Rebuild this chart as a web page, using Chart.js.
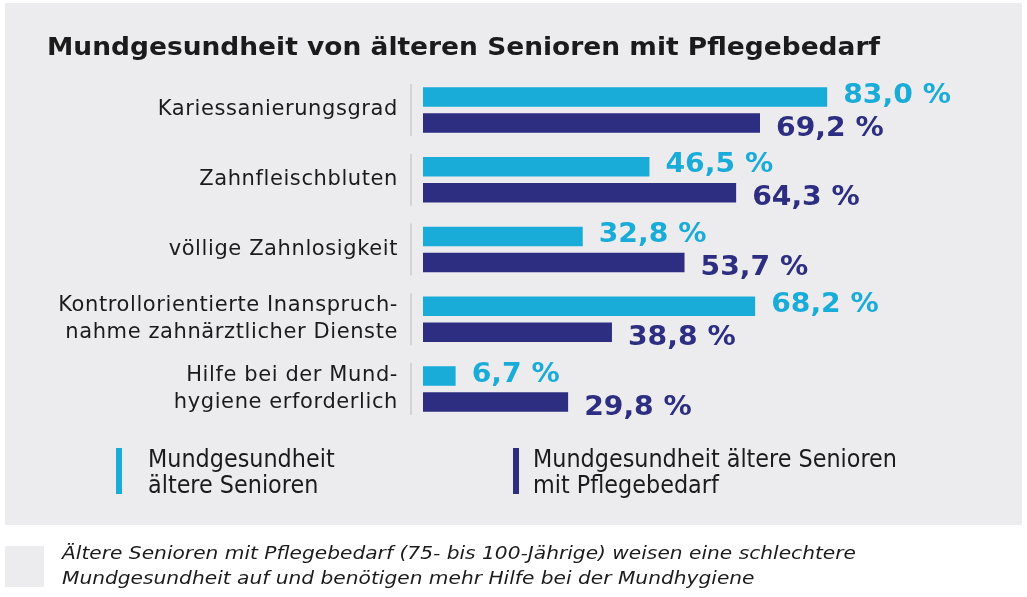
<!DOCTYPE html>
<html><head><meta charset="utf-8">
<script src="https://cdn.jsdelivr.net/npm/chart.js@4.4.0/dist/chart.umd.min.js"></script>
<style>html,body{margin:0;padding:0;background:#fff;}#wrap{width:1027px;height:597px;position:relative}</style>
</head><body><div id="wrap"><canvas id="c" width="1027" height="597"></canvas></div>
<script>
const categories = ["Kariessanierungsgrad", "Zahnfleischbluten", "völlige Zahnlosigkeit", ["Kontrollorientierte Inanspruch-", "nahme zahnärztlicher Dienste"], ["Hilfe bei der Mund-", "hygiene erforderlich"]];
const seniors = [83.0, 46.5, 32.8, 68.2, 6.7];
const care = [69.2, 64.3, 53.7, 38.8, 29.8];
const seriesNames = [["Mundgesundheit", "ältere Senioren"], ["Mundgesundheit ältere Senioren", "mit Pflegebedarf"]];
const seriesColors = ["#1aacd8", "#2d2e82"];
const title = "Mundgesundheit von älteren Senioren mit Pflegebedarf";
const footnote = ["Ältere Senioren mit Pflegebedarf (75- bis 100-Jährige) weisen eine schlechtere", "Mundgesundheit auf und benötigen mehr Hilfe bei der Mundhygiene"];

const TEXT = "#1b1b1b";

// draw text stretched horizontally by factor sx
function drawStretched(ctx, text, x, y, sx) {
  ctx.save();
  ctx.translate(x, y);
  ctx.scale(sx, 1);
  ctx.fillText(text, 0, 0);
  ctx.restore();
}
function factorFor(ctx, text, target) {
  return target / ctx.measureText(text).width;
}

const decor = {
  id: "decor",
  beforeDraw(chart) {
    const ctx = chart.ctx;
    ctx.save();
    ctx.fillStyle = "#ececef";
    ctx.fillRect(5, 3, 1017, 522);
    ctx.fillRect(5, 546, 39, 41);
    ctx.fillStyle = TEXT;
    ctx.textBaseline = "middle";
    ctx.textAlign = "left";
    ctx.font = "bold 25px 'DejaVu Sans'";
    drawStretched(ctx, title, 47, 48, factorFor(ctx, title, 833));
    ctx.font = "oblique 18px 'DejaVu Sans'";
    const ff = factorFor(ctx, footnote[0], 794);
    footnote.forEach((l, i) => drawStretched(ctx, l, 62, 554 + i * 25, ff));
    // legend
    const lx = [116, 513], tx = [148, 533];
    ctx.font = "25px 'DejaVu Sans Condensed', 'DejaVu Sans'";
    const lf = factorFor(ctx, seriesNames[1][0], 364);
    seriesNames.forEach((lines, k) => {
      ctx.fillStyle = seriesColors[k];
      ctx.fillRect(lx[k], 448, 6, 46);
      ctx.fillStyle = TEXT;
      lines.forEach((l, i) => drawStretched(ctx, l, tx[k], 460 + i * 26, lf));
    });
    ctx.restore();
    // letter spacing for category tick labels drawn by the y scale
    ctx.letterSpacing = "0.6px";
  },
  beforeDatasetsDraw(chart) {
    chart.ctx.letterSpacing = "0px";
  },
  afterDatasetsDraw(chart) {
    const ctx = chart.ctx;
    ctx.save();
    const ys = chart.scales.y;
    ctx.strokeStyle = "#d3d3d7";
    ctx.lineWidth = 2;
    categories.forEach((c, i) => {
      const yc = ys.getPixelForValue(i);
      ctx.beginPath();
      ctx.moveTo(chart.chartArea.left - 12, yc - 26);
      ctx.lineTo(chart.chartArea.left - 12, yc + 26);
      ctx.stroke();
    });
    ctx.font = "bold 26px 'DejaVu Sans'";
    ctx.textBaseline = "middle";
    ctx.textAlign = "left";
    chart.data.datasets.forEach((ds, k) => {
      const meta = chart.getDatasetMeta(k);
      ctx.fillStyle = seriesColors[k];
      meta.data.forEach((bar, i) => {
        const txt = ds.data[i].toFixed(1).replace(".", ",") + " %";
        drawStretched(ctx, txt, bar.x + 16, bar.y + (k === 0 ? -1 : 6), 1.085);
      });
    });
    ctx.restore();
  }
};

new Chart(document.getElementById("c"), {
  type: "bar",
  data: {
    labels: categories,
    datasets: [
      { label: seriesNames[0].join(" "), data: seniors, backgroundColor: seriesColors[0], categoryPercentage: 0.745, barPercentage: 0.75 },
      { label: seriesNames[1].join(" "), data: care, backgroundColor: seriesColors[1], categoryPercentage: 0.745, barPercentage: 0.75 }
    ]
  },
  options: {
    indexAxis: "y",
    responsive: false,
    animation: false,
    devicePixelRatio: 1,
    layout: { padding: { left: 10, right: 117, top: 75, bottom: 173 } },
    plugins: { legend: { display: false }, tooltip: { enabled: false }, title: { display: false } },
    scales: {
      x: { display: false, min: 0, max: 100 },
      y: {
        grid: { display: false, drawTicks: false },
        border: { display: false },
        afterFit: s => { s.width = 413; },
        ticks: { color: TEXT, padding: 25, font: { family: "'DejaVu Sans'", size: 21, lineHeight: 1.3 } }
      }
    }
  },
  plugins: [decor]
});
</script></body></html>
